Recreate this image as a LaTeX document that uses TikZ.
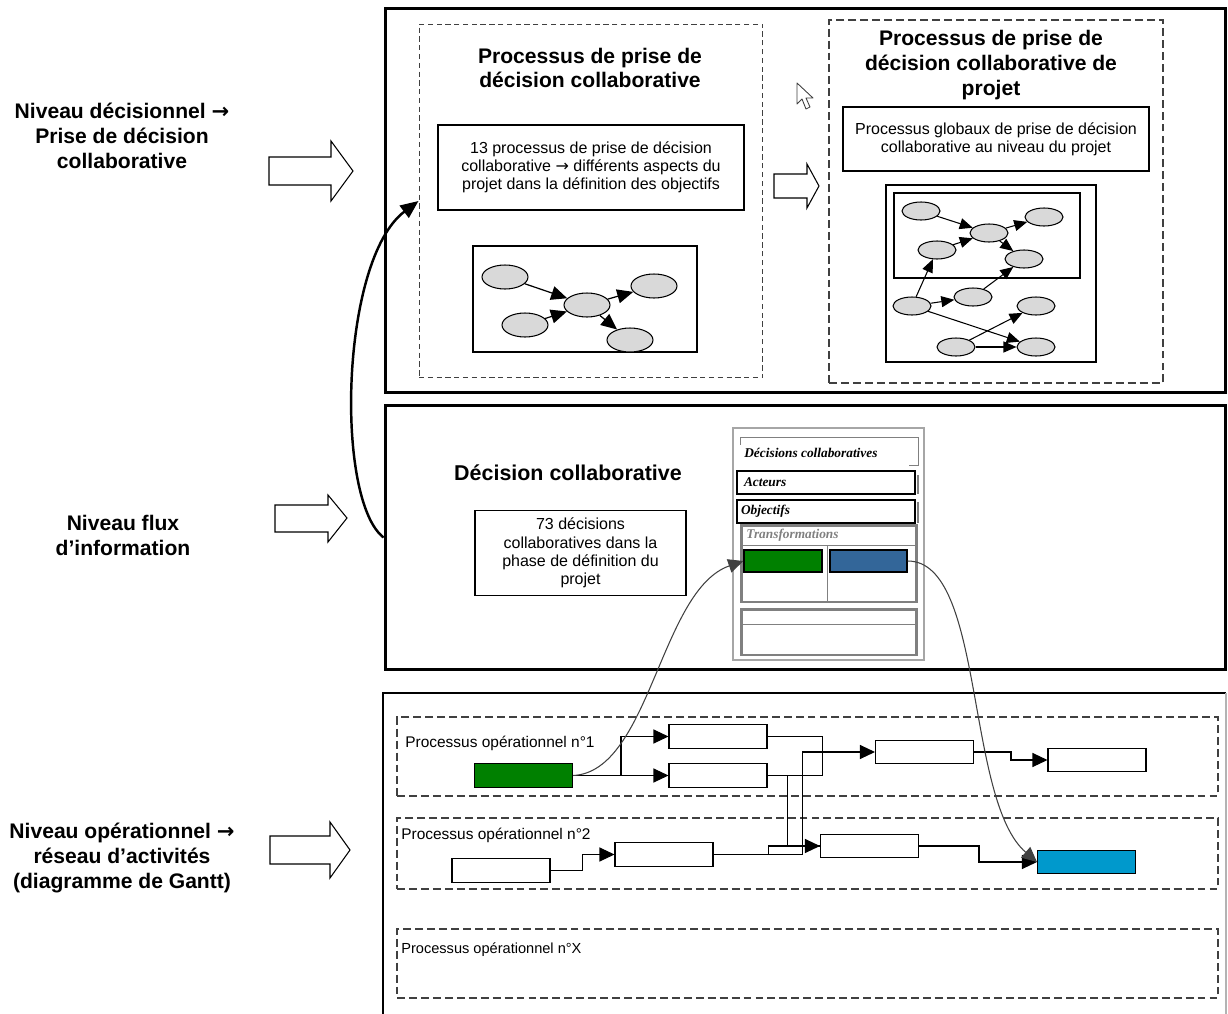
\documentclass[tikz,border=0pt]{standalone}
\usepackage{fontspec}
\setmainfont{Liberation Sans}
\newfontfamily\formfont{Liberation Serif}
\newfontfamily\arrowfont{DejaVu Sans}
\usepackage{xcolor}
\usetikzlibrary{positioning, shapes.geometric, arrows.meta}

\definecolor{actgreen}{RGB}{0,128,0}
\definecolor{actblue}{RGB}{51,102,153}
\definecolor{actcyan}{RGB}{0,153,204}
\definecolor{bubblegray}{RGB}{217,217,217}
\definecolor{dashgray}{RGB}{64,64,64}
\definecolor{formgray}{RGB}{128,128,128}

\begin{document}
\begin{tikzpicture}[x=0.02cm, y=-0.02cm,
  level/.style={draw, line width=1.7pt, inner sep=0},
  lefttitle/.style={align=center, font=\fontsize{12}{14.2}\selectfont\bfseries},
  boxtitle/.style={align=center, font=\fontsize{12}{14}\selectfont\bfseries},
  txtbox/.style={draw, line width=0.7pt, align=center, inner sep=0, font=\fontsize{9.1}{10.3}\selectfont},
  pdcframe/.style={draw, dashgray, line width=0.6pt, dash pattern=on 3pt off 2pt, inner sep=0},
  pdpframe/.style={draw, dashgray, line width=0.9pt, dash pattern=on 4.5pt off 2.3pt, inner sep=0},
  opframe/.style={draw, dashgray, line width=0.8pt, dash pattern=on 4.5pt off 2.3pt, inner sep=0, minimum width=16.42cm},
  graphbox/.style={draw, line width=0.8pt, inner sep=0},
  bubble/.style={ellipse, draw, fill=bubblegray, line width=0.6pt, minimum width=0.92cm, minimum height=0.48cm, inner sep=0},
  sbubble/.style={ellipse, draw, fill=bubblegray, line width=0.6pt, minimum width=0.76cm, minimum height=0.36cm, inner sep=0},
  garr/.style={line width=0.7pt, -{Triangle[length=0.32cm, width=0.28cm]}},
  sgarr/.style={line width=0.6pt, -{Triangle[length=0.26cm, width=0.22cm]}},
  hollow/.style={draw, line width=0.6pt, fill=white, line join=miter},
  act/.style={draw, line width=0.6pt, minimum width=1.96cm, minimum height=0.47cm, inner sep=0},
  aarr/.style={line width=0.6pt, -{Triangle[length=0.3cm, width=0.28cm]}},
  curve/.style={line width=0.6pt, dashgray, -{Triangle[length=0.3cm, width=0.28cm]}},
  bigarr/.style={line width=1.4pt, -{Triangle[length=0.36cm, width=0.3cm]}},
  oplabel/.style={anchor=west, inner sep=0, font=\fontsize{8.8}{10}\selectfont},
  ftext/.style={font=\formfont\fontsize{7.6}{8}\selectfont\bfseries\itshape},
  fbox/.style={draw, line width=1.2pt, minimum height=0.46cm, text width=3.28cm, inner xsep=0.14cm, inner ysep=0, align=left, ftext},
  fgrid/.style={draw, formgray, line width=1.7pt, minimum width=3.52cm, inner sep=0}
]
\useasboundingbox (0,0) rectangle (1228,1014);

% levels on the left
\node[lefttitle] (ldec) at (122,136) {Niveau décisionnel {\arrowfont→}\\Prise de décision\\collaborative};
\node[lefttitle] (lflux) at (123,535) {Niveau flux\\d’information};
\node[lefttitle] (lop) at (122,858) {Niveau opérationnel {\arrowfont→}\\réseau d’activités\\(diagramme de Gantt)};

\draw[hollow] (269,157) -- (331,157) -- (331,141) -- (353,171) -- (331,201) -- (331,185) -- (269,185) -- cycle;
\draw[hollow] (275,505) -- (328,505) -- (328,495) -- (347,518) -- (328,542) -- (328,532) -- (275,532) -- cycle;
\draw[hollow] (270,836) -- (330,836) -- (330,822) -- (350,850) -- (330,878) -- (330,864) -- (270,864) -- cycle;

% decision level
\node[level, minimum width=16.82cm, minimum height=7.7cm] (lvl1) at (805.5,200.5) {};
\node[pdcframe, minimum width=6.88cm, minimum height=7.08cm] (pdc) at (591,201) {};
\node[pdpframe, minimum width=6.68cm, minimum height=7.26cm] (pdp) at (996,201.5) {};

\node[boxtitle] (tpdc) at (590,68) {Processus de prise de\\décision collaborative};
\node[txtbox, minimum width=6.12cm, minimum height=1.7cm] (bpdc) at (591,167.5)
  {13 processus de prise de décision\\collaborative {\arrowfont→} différents aspects du\\projet dans la définition des objectifs};
\node[graphbox, minimum width=4.48cm, minimum height=2.12cm] (gpdc) at (585,299) {};
\node[bubble] (e1) at (505,277) {};
\node[bubble] (e2) at (525,325) {};
\node[bubble] (e3) at (587,305) {};
\node[bubble] (e4) at (654,286) {};
\node[bubble] (e5) at (630,340) {};
\foreach \a/\b in {e1/e3, e2/e3, e3/e4, e3/e5}
  \draw[garr] (\a) -- (\b);

\draw[hollow] (774,174) -- (807,174) -- (807,164) -- (819,186) -- (807,208) -- (807,198) -- (774,198) -- cycle;
% mouse pointer
\draw[dashgray, line width=0.5pt, fill=white, line join=round] (797,83) -- (797,104) -- (802,99) -- (806,109) -- (810,107) -- (806,98) -- (813,98) -- cycle;

\node[boxtitle] (tpdp) at (991,65) {Processus de prise de\\décision collaborative de\\projet};
\node[txtbox, minimum width=6.12cm, minimum height=1.28cm] (bpdp) at (996,139)
  {Processus globaux de prise de décision\\collaborative au niveau du projet};
\node[graphbox, minimum width=4.2cm, minimum height=3.54cm] (gpdp) at (991,273.5) {};
\node[graphbox, minimum width=3.72cm, minimum height=1.7cm] (gsub) at (987,235.5) {};
\node[sbubble] (f1) at (921,211) {};
\node[sbubble] (f2) at (937,250) {};
\node[sbubble] (f3) at (989,233) {};
\node[sbubble] (f4) at (1044,217) {};
\node[sbubble] (f5) at (1024,259) {};
\node[sbubble] (f6) at (912,306) {};
\node[sbubble] (f7) at (973,297) {};
\node[sbubble] (f8) at (1036,306) {};
\node[sbubble] (f9) at (956,347) {};
\node[sbubble] (f10) at (1036,347) {};
\foreach \a/\b in {f1/f3, f2/f3, f3/f4, f3/f5, f6/f2, f6/f7, f7/f5, f6/f10, f9/f8, f9/f10}
  \draw[sgarr] (\a) -- (\b);

% information flow level
\node[level, minimum width=16.82cm, minimum height=5.3cm] (lvl2) at (805.5,537.5) {};
\node[boxtitle, font=\fontsize{12.2}{14}\selectfont\bfseries] (tdc) at (568,473) {Décision collaborative};
\node[txtbox, minimum width=4.22cm, minimum height=1.7cm, font=\fontsize{9.1}{10.5}\selectfont] (bdc) at (580.5,553)
  {73 décisions\\collaboratives dans la\\phase de définition du\\projet};

\node[draw=formgray!70, line width=0.6pt, minimum width=3.82cm, minimum height=4.64cm, inner sep=0] (fPanel) at (828.5,544) {};
\node[ftext, minimum width=3.54cm, minimum height=0.54cm, inner sep=0] (fDec) at (829.5,451.5) {};
\node[ftext, anchor=west, inner sep=0] (tDec) at (744,453) {Décisions collaboratives};
\draw[formgray, line width=0.6pt] ([yshift=-4pt]fDec.north west) -- (fDec.north west) -- (fDec.north east) -- (fDec.south east) -- ++(-9,0);
\draw[formgray, line width=0.6pt] (918,475) -- (918,494) (918,502) -- (918,523);
\node[fbox] (fAct) at (826,482.5) {Acteurs};
\node[fbox, inner xsep=0.08cm, text width=3.4cm] (fObj) at (826,511.5) {Objectifs};
\node[fgrid, minimum height=1.54cm] (fTr) at (829,563.5) {};
\node[ftext, text=formgray, anchor=west, inner sep=0] (tTr) at (746,535) {Transformations};
\draw[formgray, line width=0.5pt] (741,545) -- (917,545) (827,545) -- (827,602);
\node[draw, fill=actgreen, line width=0.8pt, minimum width=1.56cm, minimum height=0.44cm, inner sep=0] (fG) at (783,561) {};
\node[draw, fill=actblue, line width=0.8pt, minimum width=1.54cm, minimum height=0.44cm, inner sep=0] (fB) at (868.5,561) {};
\node[fgrid, minimum height=0.92cm] (fNext) at (829,632) {};
\draw[formgray, line width=0.5pt] (741,624) -- (917,624);

% operational level
\draw[line width=1.7pt] (383,1030) -- (383,693) -- (1226,693);
\draw[formgray!60, line width=0.6pt] (1226,693) -- (1226,1030);

\node[opframe, minimum height=1.58cm] (op1) at (807.5,756.5) {};
\node[opframe, minimum height=1.42cm] (op2) at (807.5,853.5) {};
\node[opframe, minimum height=1.38cm] (opX) at (807.5,963.5) {};
\node[oplabel] (lop1) at (405,743) {Processus opérationnel n°1};
\node[oplabel] (lop2) at (401,835) {Processus opérationnel n°2};
\node[oplabel, font=\fontsize{8.3}{10}\selectfont] (lopX) at (401,950) {Processus opérationnel n°X};

\node[act, fill=actgreen] (G1) at (523.5,775.5) {};
\node[act] (A1) at (718,736.5) {};
\node[act] (A2) at (718,775.5) {};
\node[act] (A3) at (924.5,752) {};
\node[act] (A4) at (1097,760) {};
\node[act] (B1) at (501,870.5) {};
\node[act] (B2) at (664,854.5) {};
\node[act] (B3) at (869.5,846) {};
\node[act, fill=actcyan] (B4) at (1086.5,862) {};

\draw[aarr] (G1.east) -- (A2.west);
\draw[aarr] (G1.east) ++(48,0) |- (A1.west);
\draw[line width=0.6pt] (A1.east) -- ++(55,0) |- (A2.east);
\draw[aarr] (A2.east) -- ++(20,0) |- (B3.west);
\draw[line width=0.6pt] (B2.east) ++(55,0) |- (B3.west);
\draw[aarr] (B2.east) -- ++(89,0) |- (A3.west);
\draw[aarr] (A3.east) -- ++(37,0) |- (A4.west);
\draw[aarr] (B1.east) -- ++(32,0) |- (B2.west);
\draw[aarr] (B3.east) -- ++(60,0) |- (B4.west);

% links between levels
\draw[curve] (G1.east) .. controls (650,772) and (660,590) .. (fG.west);
\draw[curve] (fB.east) .. controls (985,561) and (965,800) .. (B4.west);
\draw[bigarr] (lvl2.west) .. controls (335,500) and (340,260) .. (pdc.west);
\end{tikzpicture}
\end{document}
